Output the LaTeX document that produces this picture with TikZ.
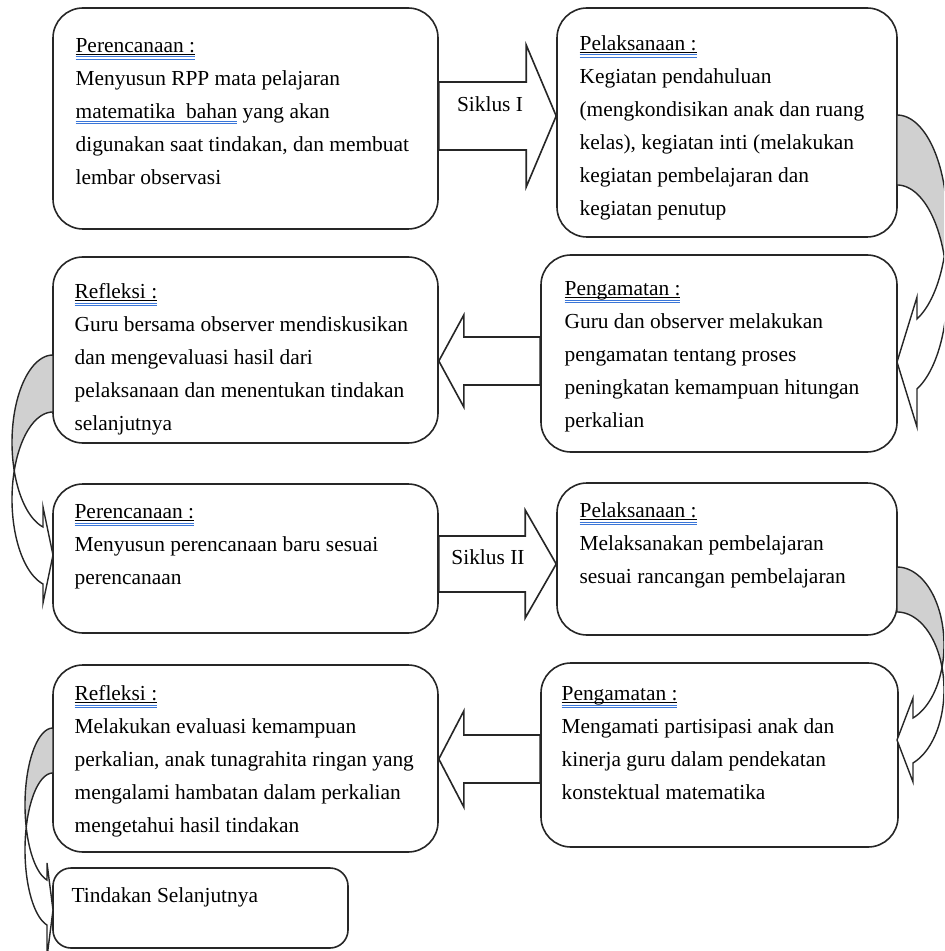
\documentclass[tikz,border=0pt]{standalone}
\usepackage{fontspec}
\setmainfont{Liberation Serif}
\usetikzlibrary{calc,fit}

\definecolor{gramblue}{RGB}{58,118,216}
\definecolor{backgray}{RGB}{208,208,208}

\newsavebox{\ulbox}
% heading: underline plus the blue double line
\newcommand{\ttl}[1]{\sbox{\ulbox}{#1}\rlap{\rule[-1.3pt]{\wd\ulbox}{0.45pt}}\rlap{\color{gramblue}\rule[-2.4pt]{\wd\ulbox}{0.5pt}}\rlap{\color{gramblue}\rule[-3.5pt]{\wd\ulbox}{0.5pt}}\usebox{\ulbox}}
\newcommand{\gram}[1]{\sbox{\ulbox}{#1}\rlap{\color{gramblue}\rule[-1.6pt]{\wd\ulbox}{0.5pt}}\rlap{\color{gramblue}\rule[-2.7pt]{\wd\ulbox}{0.5pt}}\usebox{\ulbox}}

% curved arrow: edge x, side, top, band, reach, half height, head depth, tip y, barb
\newcommand{\bentarrow}[9]{%
  \pgfmathsetmacro{\crossang}{asin(#4/(2*#6))}%
  \pgfmathsetmacro{\headang}{acos(#7/#5)}%
  \draw[bent, fill=backgray] plot[domain=90:-\crossang, samples=40] ({#1+(#2)*#5*cos(\x)},{#3+#6-#6*sin(\x)})
    -- plot[domain=\crossang:90, samples=40] ({#1+(#2)*#5*cos(\x)},{#3+#4+#6-#6*sin(\x)}) -- cycle;
  \draw[bent, fill=white] plot[domain=\crossang:-\headang, samples=40] ({#1+(#2)*#5*cos(\x)},{#3+#4+#6-#6*sin(\x)})
    -- ({#1+(#2)*#7},{#8+#9}) -- (#1,#8) -- ({#1+(#2)*#7},{#8-#9})
    -- plot[domain=-\headang:-\crossang, samples=40] ({#1+(#2)*#5*cos(\x)},{#3+#6-#6*sin(\x)}) -- cycle;
}

\begin{document}
\begin{tikzpicture}[x=0.5pt,y=-0.5pt,
  box/.style={draw=black!85, line width=0.8pt, rounded corners=15pt, fill=white, inner sep=0pt},
  txt/.style={anchor=north west, inner sep=0pt, align=left, font=\fontsize{10.7}{16.5}\selectfont},
  lbl/.style={inner sep=0pt, font=\fontsize{10.7}{16.5}\selectfont},
  blockarrow/.style={draw=black!85, line width=0.8pt, fill=white, line join=miter},
  bent/.style={draw=black!85, line width=0.7pt}]

  \useasboundingbox (0,0) rectangle (944,951);
  \clip (0,0) rectangle (944,951);

  %siklus I boxes
  \node[box, fit={(53,8) (438,229)}] (per1) {};
  \node[box, fit={(557,8) (897,237)}] (pel1) {};
  \node[box, fit={(541,255) (897,452)}] (pen1) {};
  \node[box, fit={(53,257) (438,443)}] (ref1) {};
  %siklus II boxes
  \node[box, fit={(53,484) (438,633)}] (per2) {};
  \node[box, fit={(557,483) (897,635)}] (pel2) {};
  \node[box, fit={(541,663) (898,847)}] (pen2) {};
  \node[box, fit={(53,665) (438,852)}] (ref2) {};
  \node[box, rounded corners=9pt, fit={(53,868) (348,948)}] (tin) {};

  \node[txt] at ($(per1.north west)+(23,22)$) {\strut\ttl{Perencanaan :}\\Menyusun RPP mata pelajaran\\\gram{matematika\ \ bahan} yang akan\\digunakan saat tindakan, dan membuat\\lembar observasi};
  \node[txt] at ($(pel1.north west)+(23,20)$) {\strut\ttl{Pelaksanaan :}\\Kegiatan pendahuluan\\(mengkondisikan anak dan ruang\\kelas), kegiatan inti (melakukan\\kegiatan pembelajaran dan\\kegiatan penutup};
  \node[txt] at ($(pen1.north west)+(24,18)$) {\strut\ttl{Pengamatan :}\\Guru dan observer melakukan\\pengamatan tentang proses\\peningkatan kemampuan hitungan\\perkalian};
  \node[txt] at ($(ref1.north west)+(22,19)$) {\strut\ttl{Refleksi :}\\Guru bersama observer mendiskusikan\\dan mengevaluasi hasil dari\\pelaksanaan dan menentukan tindakan\\selanjutnya};
  \node[txt] at ($(per2.north west)+(22,12)$) {\strut\ttl{Perencanaan :}\\Menyusun perencanaan baru sesuai\\perencanaan};
  \node[txt] at ($(pel2.north west)+(23,12)$) {\strut\ttl{Pelaksanaan :}\\Melaksanakan pembelajaran\\sesuai rancangan pembelajaran};
  \node[txt] at ($(pen2.north west)+(21,15)$) {\strut\ttl{Pengamatan :}\\Mengamati partisipasi anak dan\\kinerja guru dalam pendekatan\\konstektual matematika};
  \node[txt] at ($(ref2.north west)+(22,13)$) {\strut\ttl{Refleksi :}\\Melakukan evaluasi kemampuan\\perkalian, anak tunagrahita ringan yang\\mengalami hambatan dalam perkalian\\mengetahui hasil tindakan};
  \node[txt] at ($(tin.north west)+(19,12)$) {\strut Tindakan Selanjutnya};

  %block arrows
  \coordinate (s1tip) at (pel1.west |- 0,116);
  \draw[blockarrow] (per1.east |- 0,82) -- ($(s1tip)+(-30,-34)$) -- ($(s1tip)+(-30,-71)$) -- (s1tip)
    -- ($(s1tip)+(-30,71)$) -- ($(s1tip)+(-30,34)$) -- (per1.east |- 0,150) -- cycle;
  \node[lbl] (sik1) at (490,104) {Siklus I};

  \coordinate (r1tip) at (ref1.east |- 0,361);
  \draw[blockarrow] (pen1.west |- 0,337) -- ($(r1tip)+(25,-24)$) -- ($(r1tip)+(25,-46)$) -- (r1tip)
    -- ($(r1tip)+(25,46)$) -- ($(r1tip)+(25,24)$) -- (pen1.west |- 0,385) -- cycle;

  \coordinate (s2tip) at (pel2.west |- 0,564);
  \draw[blockarrow] (per2.east |- 0,536) -- ($(s2tip)+(-31,-28)$) -- ($(s2tip)+(-31,-54)$) -- (s2tip)
    -- ($(s2tip)+(-31,54)$) -- ($(s2tip)+(-31,28)$) -- (per2.east |- 0,592) -- cycle;
  \node[lbl] (sik2) at (488,557) {Siklus II};

  \coordinate (r2tip) at (ref2.east |- 0,759);
  \draw[blockarrow] (pen2.west |- 0,735) -- ($(r2tip)+(25,-24)$) -- ($(r2tip)+(25,-48)$) -- (r2tip)
    -- ($(r2tip)+(25,48)$) -- ($(r2tip)+(25,24)$) -- (pen2.west |- 0,783) -- cycle;

  %curved arrows
  \bentarrow{897}{1}{115}{70}{50}{106.4}{20}{362}{65}
  \bentarrow{897}{1}{567}{45}{47}{77.8}{16}{740}{42}
  \bentarrow{53}{-1}{355}{57}{41}{87.3}{10}{555}{48}
  \bentarrow{53}{-1}{728}{45}{28}{76.9}{6}{910}{47}

\end{tikzpicture}
\end{document}
